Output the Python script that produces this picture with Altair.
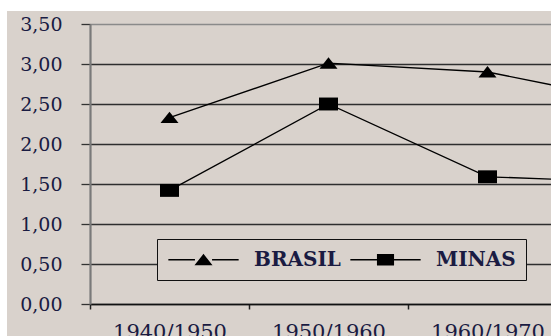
import altair as alt
import pandas as pd

# Growth rates by decade (the last period continues past the right edge)
periods = ["1940/1950", "1950/1960", "1960/1970", "1970/1980"]
brasil = [2.33, 3.01, 2.90, 2.50]
minas = [1.42, 2.50, 1.59, 1.52]
series = ["BRASIL", "MINAS"]
y_ticks = [0, 0.5, 1, 1.5, 2, 2.5, 3, 3.5]

df = pd.DataFrame({
    "periodo": periods * 2,
    "serie": [series[0]] * len(periods) + [series[1]] * len(periods),
    "taxa": brasil + minas,
})

BG = "#d9d2cc"
INK = "#1a1b42"
FONT = "DejaVu Serif"

# marker shapes (slightly flattened triangle / rectangle)
tri = "M-0.95,0.58L0.95,0.58L0,-0.62Z"
sq = "M-1,-0.68H1V0.68H-1Z"
# legend keys: a thin bar on each side of the marker
bar = "M-3.7,-0.07H-0.9V0.07H-3.7ZM0.9,-0.07H3.7V0.07H0.9Z"
tri_key = bar + tri
sq_key = bar + "M-0.9,-0.6H0.9V0.6H-0.9Z"

W, H = 461, 280
STEP = 159

x = alt.X(
    "periodo:N",
    sort=periods,
    scale=alt.Scale(domain=periods, range=[0, STEP * len(periods)],
                    paddingInner=0, paddingOuter=0),
    axis=alt.Axis(
        title=None, tickBand="extent", tickSize=5, tickColor="#222",
        tickWidth=1.5, domainColor="#111", domainWidth=1.5,
        labelFont=FONT, labelFontSize=21, labelColor=INK, labelAngle=0,
        labelPadding=12, grid=False, labelOverlap=False,
    ),
)
y = alt.Y(
    "taxa:Q",
    scale=alt.Scale(domain=[0, 3.5], nice=False),
    axis=alt.Axis(
        title=None, values=y_ticks,
        labelExpr="replace(format(datum.value, '.2f'), '.', ',')",
        tickSize=9, tickColor="#333", tickWidth=1.3,
        domainColor="#7a7a7a", domainWidth=2.2,
        grid=True, gridWidth=1.3,
        gridColor={"condition": {"test": "datum.value == 3.5", "value": "#8a8a8a"},
                   "value": "#2e2e2e"},
        labelFont=FONT, labelFontSize=19, labelColor=INK, labelPadding=19,
    ),
)

# white margin along the top and left edges
top_margin = alt.Chart(alt.Data(values=[{}])).mark_rect(color="white").encode(
    x=alt.value(-90), x2=alt.value(W), y=alt.value(-24), y2=alt.value(-13)
)
left_margin = alt.Chart(alt.Data(values=[{}])).mark_rect(color="white").encode(
    x=alt.value(-90), x2=alt.value(-83), y=alt.value(-24), y2=alt.value(H + 32)
)

lines = alt.Chart().mark_line(color="black", strokeWidth=1.3, clip=True).encode(
    x=x, y=y, detail="serie:N"
)

points = alt.Chart().mark_point(filled=True, color="black", opacity=1, size=361, clip=True).encode(
    x=x, y=y,
    shape=alt.Shape("serie:N", scale=alt.Scale(domain=series, range=[tri, sq]), legend=None),
)

legend_keys = alt.Chart().mark_point(filled=True, color="black", opacity=0, size=361).encode(
    x=x, y=y,
    shape=alt.Shape(
        "serie:N",
        scale=alt.Scale(domain=series, range=[tri_key, sq_key]),
        legend=alt.Legend(
            title=None, orient="none", legendX=67, legendY=215,
            direction="horizontal", padding=10,
            strokeColor="#111", fillColor=BG,
            labelFont=FONT, labelFontSize=20, labelFontWeight="bold", labelColor=INK,
            symbolOffset=26, labelOffset=40, columnPadding=6,
            symbolSize=361, symbolOpacity=1, symbolFillColor="black",
        ),
    ),
)

chart = alt.layer(top_margin, left_margin, lines, points, legend_keys, data=df).resolve_scale(
    shape="independent"
).properties(
    width=W, height=H,
    padding={"left": 90, "top": 24, "right": 0, "bottom": 32},
    autosize=alt.AutoSizeParams(type="none"),
    background=BG,
).configure_view(stroke=None)

chart.save("out.html", embed_options={"renderer": "svg", "actions": False})
